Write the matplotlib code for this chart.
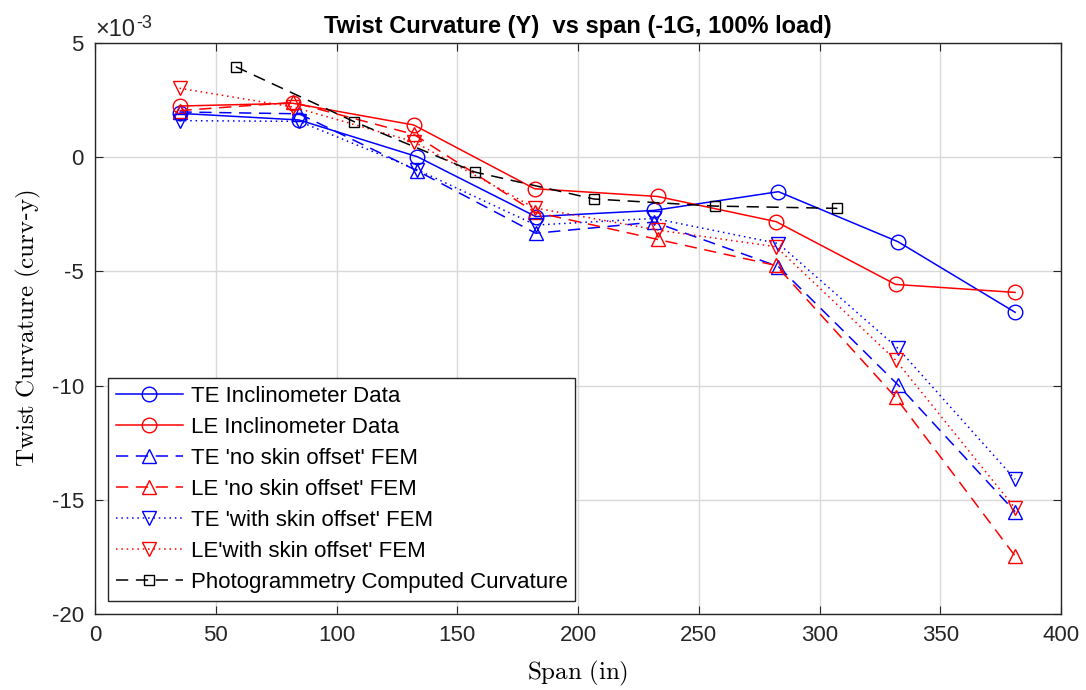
import matplotlib
matplotlib.use("Agg")
import matplotlib.pyplot as plt

plt.rcParams['font.family'] = ['Liberation Sans', 'DejaVu Sans']
plt.rcParams['mathtext.fontset'] = 'cm'
plt.rcParams['axes.unicode_minus'] = False

# span positions (in)
x_te = [35, 84.5, 133.5, 182.5, 231.5, 283, 332.5, 381]
x_le = [35, 82, 132, 182, 233, 282, 331.5, 381]
x_photo = [58.3, 107.2, 157.3, 206.6, 256.7, 307.4]

# twist curvature values (x 1e-3)
te_incl = [1.92, 1.63, 0.02, -2.6, -2.33, -1.51, -3.70, -6.79]
le_incl = [2.24, 2.36, 1.41, -1.38, -1.72, -2.82, -5.57, -5.92]
te_noskin = [1.98, 1.90, -0.60, -3.33, -2.84, -4.79, -9.97, -15.52]
le_noskin = [2.04, 2.40, 1.0, -2.4, -3.6, -4.74, -10.51, -17.46]
te_skin = [1.6, 1.57, -0.55, -2.97, -2.68, -3.78, -8.37, -14.1]
le_skin = [3.02, 2.2, 0.68, -2.22, -3.19, -3.92, -8.88, -15.37]
photo = [3.96, 1.56, -0.65, -1.83, -2.14, -2.24]

labels = ["TE Inclinometer Data", "LE Inclinometer Data",
          "TE 'no skin offset' FEM", "LE 'no skin offset' FEM",
          "TE 'with skin offset' FEM", "LE'with skin offset' FEM",
          "Photogrammetry Computed Curvature"]

fig = plt.figure(figsize=(10.86, 6.9), dpi=100)
ax = fig.add_axes([95/1086, 1-614/690, (1061-95)/1086, (614-43)/690])

lw = 1.1
ms = 10.5
dash = (8, 5)
dot = (1, 2.5)

ax.plot(x_te, te_incl, color='#0000ff', lw=lw, marker='o', ms=ms, mfc='none', label=labels[0])
ax.plot(x_le, le_incl, color='#ff0000', lw=lw, marker='o', ms=ms, mfc='none', label=labels[1])
ax.plot(x_te, te_noskin, color='#0000ff', lw=lw, dashes=dash, marker='^', ms=ms, mfc='none', label=labels[2])
ax.plot(x_le, le_noskin, color='#ff0000', lw=lw, dashes=dash, marker='^', ms=ms, mfc='none', label=labels[3])
ax.plot(x_te, te_skin, color='#0000ff', lw=lw, dashes=dot, marker='v', ms=ms, mfc='none', label=labels[4])
ax.plot(x_le, le_skin, color='#ff0000', lw=lw, dashes=dot, marker='v', ms=ms, mfc='none', label=labels[5])
ax.plot(x_photo, photo, color='black', lw=lw, dashes=dash, marker='s', ms=7, mfc='none', label=labels[6])

ax.set_xlim(0, 400)
ax.set_ylim(-20, 5)
ax.set_xticks(range(0, 401, 50))
ax.set_yticks(range(-20, 6, 5))
ax.grid(True, color='#d9d9d9', lw=1)
ax.set_axisbelow(True)
ax.tick_params(direction='in', top=True, right=True, labelsize=16, length=6,
               colors='#262626', pad=8)
for s in ax.spines.values():
    s.set_color('#262626')
    s.set_linewidth(1)

# exponent label, matlab style
ax.text(0.0, 1.003, '\u00d710', transform=ax.transAxes, fontsize=17,
        ha='left', va='bottom', color='#262626')
ax.text(0.043, 1.02, '-3', transform=ax.transAxes, fontsize=13,
        ha='left', va='bottom', color='#262626')

ax.set_title("Twist Curvature (Y)  vs span (-1G, 100% load)", fontsize=17, fontweight='bold', pad=7)
ax.set_xlabel(r'$\mathrm{Span\ (in)}$', fontsize=18, labelpad=9)
ax.set_ylabel(r'$\mathrm{Twist\ Curvature\ (curv}$-$\mathrm{y)}$', fontsize=18, labelpad=6)

leg = ax.legend(loc='lower left', fontsize=16, handlelength=3, fancybox=False,
                edgecolor='#262626', framealpha=1, borderaxespad=0.6,
                labelspacing=0.45, handletextpad=0.35, borderpad=0.35)
leg.get_frame().set_linewidth(1)

fig.savefig("out.png", dpi=100)
